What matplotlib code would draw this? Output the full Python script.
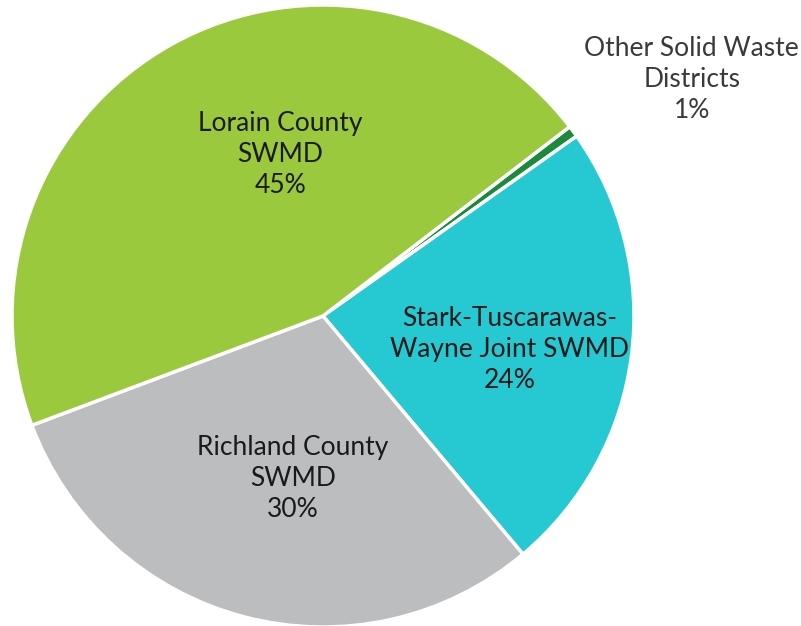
import matplotlib
matplotlib.use("Agg")
import matplotlib.pyplot as plt
from matplotlib import font_manager

# slice data, clockwise from the small wedge at the top right
districts = ["Other Solid Waste\nDistricts", "Stark-Tuscarawas-\nWayne Joint SWMD",
             "Richland County\nSWMD", "Lorain County\nSWMD"]
shares = [0.6, 23.7, 30.4, 45.3]
pct_labels = ["1%", "24%", "30%", "45%"]
colors = ["#1b8a3c", "#26c8d2", "#bcbdbf", "#9bc93d"]

# text anchor positions (pie radius = 1)
label_pos = [(1.186, 0.759), (0.601, -0.109), (-0.096, -0.521), (-0.138, 0.518)]

names = {f.name for f in font_manager.fontManager.ttflist}
family = "Lato" if "Lato" in names else "DejaVu Sans"

W, H = 801, 626
fig = plt.figure(figsize=(W / 100, H / 100), dpi=100)
cx, cy, r = 323, 310, 311
ax = fig.add_axes([(cx - r) / W, (cy - r) / H, 2 * r / W, 2 * r / H])

ax.pie(shares, colors=colors, startangle=37.5, counterclock=False,
       wedgeprops=dict(edgecolor="white", linewidth=2.5), radius=1)
ax.set_xlim(-1, 1)
ax.set_ylim(-1, 1)
ax.set_aspect("auto")
ax.axis("off")

for i, (name, pct, (x, y)) in enumerate(zip(districts, pct_labels, label_pos)):
    col = "#3a3a3a" if i == 0 else "#1a1a1a"
    ax.text(x, y, f"{name}\n{pct}", ha="center", va="center", fontsize=19,
            family=family, fontweight="normal", color=col, linespacing=1.3,
            clip_on=False)

fig.savefig("out.png", dpi=100)
